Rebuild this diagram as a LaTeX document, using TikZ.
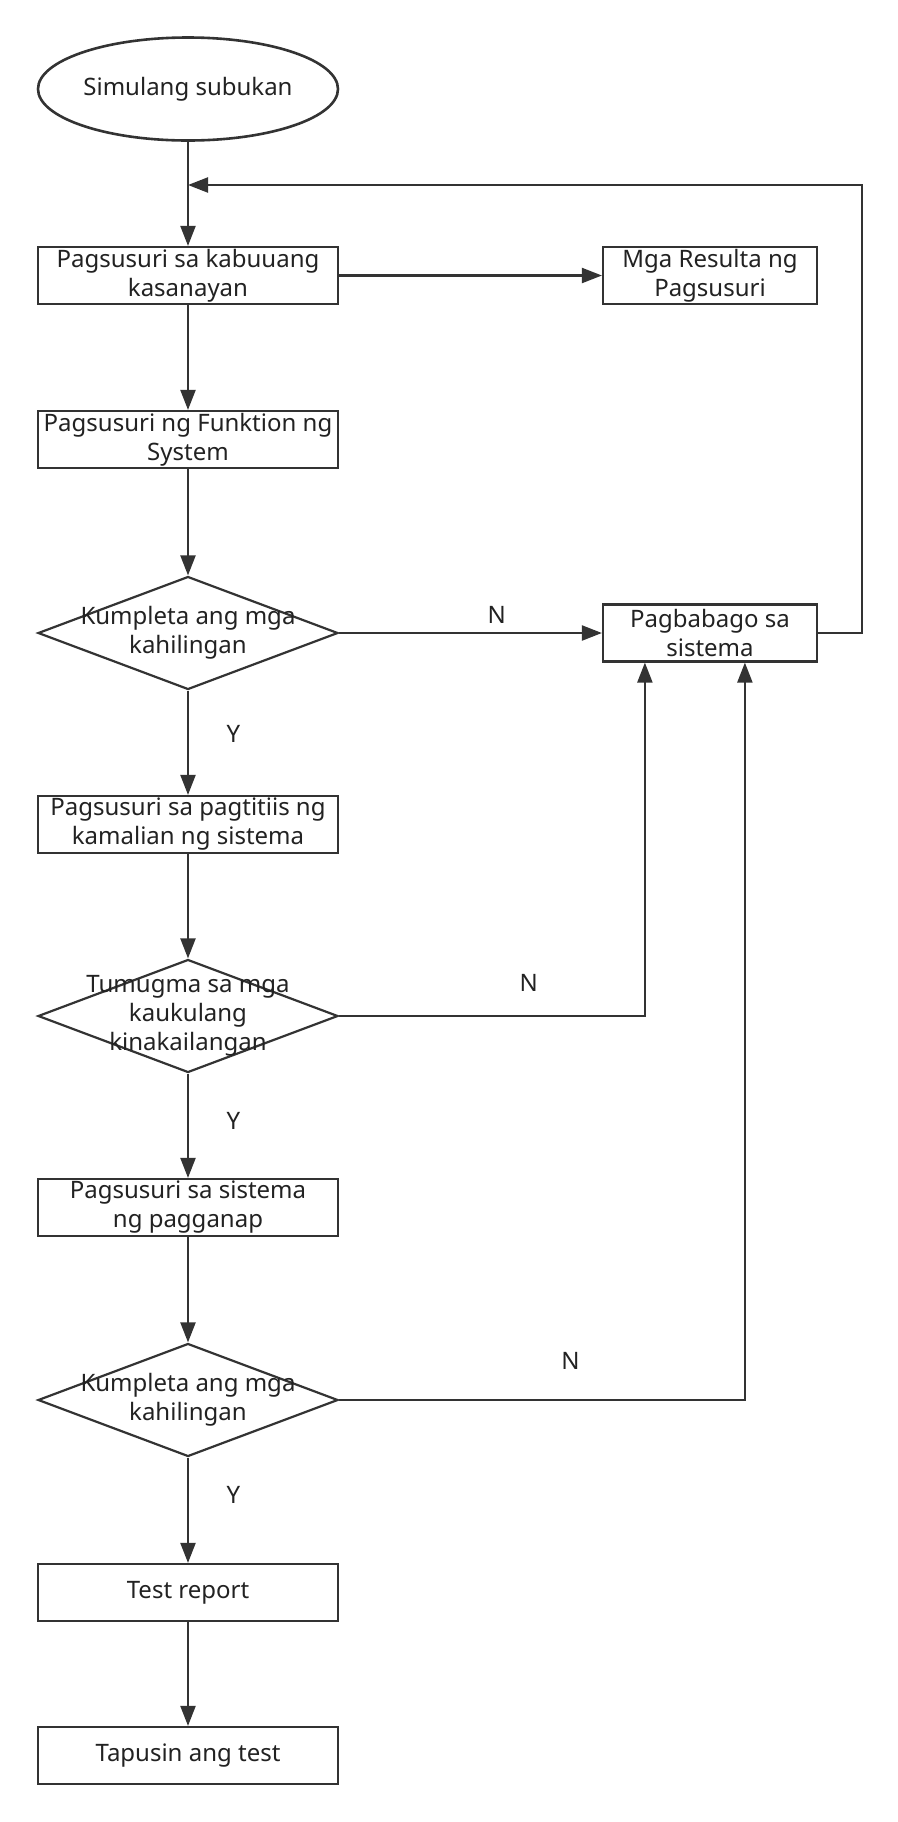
\documentclass[tikz,border=0pt]{standalone}
\definecolor{linedark}{RGB}{51,51,51}
\definecolor{textdark}{RGB}{34,34,34}
\usepackage{fontspec}
\setmainfont{Noto Sans}
\usetikzlibrary{arrows.meta,shapes.geometric,calc}
\tikzset{
  box/.style={rectangle,draw=linedark,line width=1.1pt,fill=white,
              minimum width=#1,minimum height=28.5pt,inner sep=0pt,
              align=center,text=textdark,font=\fontsize{12}{14.5}\selectfont},
  box/.default=150pt,
  terminal/.style={ellipse,draw=linedark,line width=1.3pt,fill=white,
                   minimum width=150pt,minimum height=51.5pt,inner sep=0pt,
                   text=textdark,font=\fontsize{12}{14.5}\selectfont},
  decision/.style={diamond,draw=linedark,line width=1.1pt,fill=white,
                   minimum width=150pt,minimum height=56.5pt,inner sep=0pt},
  dtext/.style={align=center,text=textdark,inner sep=0pt,
                font=\fontsize{12}{14.5}\selectfont},
  arrow/.style={-{Triangle[length=10pt,width=7.5pt]},line width=1.1pt,linedark},
  lbl/.style={text=textdark,inner sep=0pt,font=\fontsize{12}{14.5}\selectfont},
}

\begin{document}
\begin{tikzpicture}[x=0.5pt,y=-0.5pt]
  \useasboundingbox (0,0) rectangle (898,1822);
  % main column
  \node[terminal] (start) at (188,89) {Simulang subukan};
  \node[box] (sys) at (188,275.5) {Pagsusuri sa kabuuang\\kasanayan};
  \node[box=107pt] (res) at (710,275.5) {Mga Resulta ng\\Pagsusuri};
  \node[box] (func) at (188,439.5) {Pagsusuri ng Funktion ng\\System};
  \node[decision] (chk1) at (188,633) {};
  \node[dtext] (chk1t) at (chk1) {Kumpleta ang mga\\kahilingan};
  \node[box=107pt] (fix) at (710,633) {Pagbabago sa\\sistema};
  \node[box] (fault) at (188,824.5) {Pagsusuri sa pagtitiis ng\\kamalian ng sistema};
  \node[decision] (chk2) at (188,1016) {};
  \node[dtext] (chk2t) at (chk2) {Tumugma sa mga\\kaukulang\\kinakailangan};
  \node[box] (perf) at (188,1207.5) {Pagsusuri sa sistema\\ng pagganap};
  \node[decision] (chk3) at (188,1400) {};
  \node[dtext] (chk3t) at (chk3) {Kumpleta ang mga\\kahilingan};
  \node[box] (report) at (188,1592.5) {Test report};
  \node[box] (finish) at (188,1755.5) {Tapusin ang test};

  % connectors
  \draw[arrow] (start) -- (sys);
  \draw[arrow] (sys) -- (res);
  \draw[arrow] (sys) -- (func);
  \draw[arrow] (func) -- (chk1);
  \draw[arrow] (chk1) -- node[lbl,pos=0.6,above=4.25pt] (n1) {N} (fix);
  \draw[arrow] (chk1) -- node[lbl,pos=0.42,right=18.75pt] (y1) {Y} (fault);
  \draw[arrow] (fault) -- (chk2);
  \draw[arrow] (chk2.east) -| node[lbl,pos=0.31,above=11.75pt] (n2) {N}
        ($(fix.south west)+(43,0)$);
  \draw[arrow] (chk2) -- node[lbl,pos=0.45,right=18.75pt] (y2) {Y} (perf);
  \draw[arrow] (perf) -- (chk3);
  \draw[arrow] (chk3.east) -| node[lbl,pos=0.285,above=14.75pt] (n3) {N}
        ($(fix.south west)+(143,0)$);
  \draw[arrow] (chk3) -- node[lbl,pos=0.35,right=18.75pt] (y3) {Y} (report);
  \draw[arrow] (report) -- (finish);

  % back to the top
  \coordinate (back) at (188,185);
  \draw[arrow] (fix.east) -- ++(44,0) |- (back);
\end{tikzpicture}
\end{document}
